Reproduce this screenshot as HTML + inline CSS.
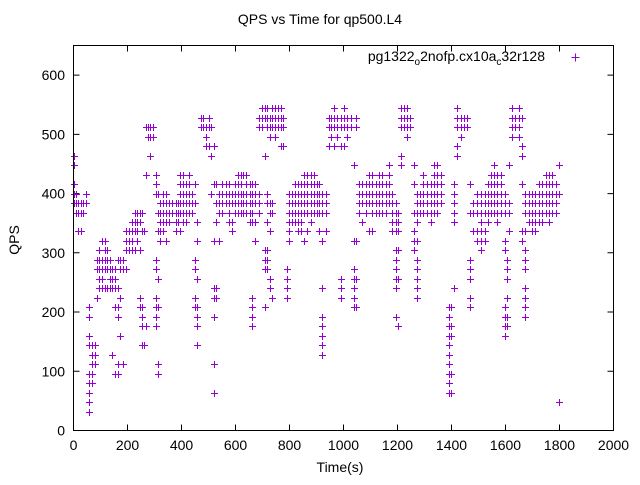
<!DOCTYPE html>
<html><head><meta charset="utf-8"><style>
html,body{margin:0;padding:0;background:#fff;}
svg text{font-family:"Liberation Sans",sans-serif;}
</style></head><body>
<svg id="chart" width="640" height="480" viewBox="0 0 640 480" xmlns="http://www.w3.org/2000/svg">
<rect x="0" y="0" width="640" height="480" fill="#fff"/>
<text x="320" y="24" font-size="14" text-anchor="middle">QPS vs Time for qp500.L4</text>
<text x="340" y="472" font-size="14" text-anchor="middle">Time(s)</text>
<text transform="translate(19,240) rotate(-90)" font-size="14" text-anchor="middle">QPS</text>
<g id="axes"></g>
<g id="marks"></g>
<g>
<text x="545" y="61" font-size="14" text-anchor="end">pg1322<tspan font-size="10" dy="4">o</tspan><tspan dy="-4">2nofp.cx10a</tspan><tspan font-size="10" dy="4">c</tspan><tspan dy="-4">32r128</tspan></text>
<path d="M571.5 57.5h8M575.5 53.5v8" stroke="#9400d3" stroke-width="1"/>
</g>
<rect x="73.5" y="45.5" width="540" height="385" fill="none" stroke="#000" stroke-width="1"/>
</svg>
<script>
const xTicks=[0,200,400,600,800,1000,1200,1400,1600,1800,2000];
const yTicks=[0,100,200,300,400,500,600];
const sampleTimes=[1,9,16,26,36,48,57,68,80,88,95,105,115,125,135,144,154,164,174,184,194,205,215,226,235,245,252,261,267,275,285,295,306,314,322,332,342,354,366,378,387,396,406,416,429,438,451,458,471,480,489,500,509,520,529,538,550,563,576,588,598,609,619,629,640,652,662,674,687,699,708,718,727,737,748,757,767,776,789,798,809,820,831,844,855,866,878,890,900,910,921,934,946,955,964,977,989,1001,1014,1026,1038,1045,1057,1069,1082,1094,1106,1119,1131,1143,1156,1168,1180,1193,1201,1214,1224,1236,1246,1261,1271,1283,1295,1310,1323,1335,1347,1360,1390,1397,1411,1421,1434,1446,1458,1468,1481,1493,1508,1523,1535,1547,1557,1570,1582,1597,1604,1613,1625,1637,1650,1662,1674,1687,1699,1711,1724,1736,1749,1761,1773,1786,1798];
const sampleQps=[
[464,448,416,400,384],[400,384,368],[384,368,336],[384,368,336],[384,368],[400,384],
[208,192,160,144,96,80,64,48,32],[144,128,112,96,80],[144,128,112],[224,288,272],
[304,288,272,256,240],[320,288,272,256,240],[320,304,288,272,240],[304,288,272,240],
[288,272,256,240],[272,256,240,128],[272,256,240,208,96],[288,240,208,192,96,112],
[288,272,224,160],[288,272,112],[320,336,304,272],[336,320,304],[352,336,320,304],
[368,352,336,304],[368,352,336,320],[368,352,304,224,208],[368,336,208,192,176,144],
[336,144],[512,432,176],[512,496],[512,496,464],[512,496],
[432,416,400,288,272,224,208,192,176],[400,368,336,256,208,112,96],[384,368,352,336,320],
[400,384,368,352,336],[400,384,368,352,320],[384,368,352],[384,368],[384,368,352,336],
[384,368,352],[432,416,400,384,368,336],[432,416,400,384,368,352],[416,400,384,368,352],
[432,416,400,384,368],[400,384,368],[416,384,288,272,224,208],[352,320,256,208,192,176,144],
[528,512],[528,512],[512,496,480],[528,512,480],[512,464,400],
[480,416,320,240,224,192,64,112],[416,384,352,240,224],[400,384,368,320],[416,400,384,368],
[416,400,384],[416,400,384,368,352],[400,384,352,336],[416,400,384,368],[432,416,400,384,368],
[432,416,400,384,368],[432,400,384,368],[432,416,400,384,368],[416,400,384,368,352],
[416,400,384,368,352,208,192,176,224],[416,400,384,352,320],[400,384,368,528,512],
[544,528,512],[544,528,464,304,288,272,208],[544,528,512,400,384,352,304,288,272],
[528,512,496,384,368,336,256,240],[544,528,512,384,368,224],[544,528,512,496],[544,528,512],
[544,528,512,480],[528,512,480],[272,256,240,224],[400,384,368,352,336,320],[400,384,368,352],
[416,400,384,368,352],[416,400,384,368,352,336],[416,400,384,368,352,336],
[432,416,400,384,368,320],[432,416,400,384,368,336],[432,416,400,384,368,352],
[432,416,400,384,368],[416,400,384,368],[416,400,384,368,336],
[400,384,368,320,240,192,176,160,144,128],[400,384,368,336],[528,512,480],[528,512,496],
[544,528,512,480],[528,512,496],[528,512,480,256,240,224],[544,528,512,480],[528,512,496],
[528,512],[448,320,272,256,240,224,208],[528,512,320,256,208],[416,400,384,368],
[416,400,384,352],[416,400,384,368],[432,416,400,384,336],[432,416,400,384,368,336],
[416,400,384,368],[432,416,400,384,368],[432,416,400,384,368],[416,400,384,368],
[448,432,416,400,384],[400,384,368,352,336],[384,368,352,336,304,288,272,256,240,192],
[368,352,336,304,256,176],[544,528,512,464,448],[544,528,512],[544,528,512,496],[528,512],
[448,416,368,336,320,304],[400,384,368,352,320,288,272,256,240,224],[400,384,368],
[432,416,400,384,368],[416,400,384,368],[416,400,384,368,352],[448,432,416,400,384,368],
[448,432,416,400,384,368],[432,416,400,384],[208,192,176,160,144,128,112,96,80,64],
[208,176,160,64,96],[416,400,384,368,352,240],[544,528,512,480,464],[528,512,496],[528,512],
[528,512],[416,368,288,272,256,224,208],[384,368,336],[400,384,368,336,320],
[400,384,368,352,336,320,304],[400,384,368,336,320],[416,400,384,368,352],[432,416,400,384,368],
[448,432,416,400,384,368],[432,416,400,384,368,352],[432,416,400,384,368],
[400,384,368,320,304,208,192,176,160],[288,272,256,224,192,176],[384,368,336,448],
[544,528,512,496],[528,512],[544,528,512,496],[528,480,464,320,336,416],
[400,384,368,336,304,288,272,240,208,192,224],[400,384,368,352],[400,384,368,352,336],
[400,384,368,352,336],[416,400,384,368,352],[416,400,384,368,352],[432,416,400,384,368],
[432,416,400,384,368,352],[432,416,400,384,368],[416,400,384,368],[448,400,48]
];
const NS='http://www.w3.org/2000/svg';
const X0=73.5,X1=613.5,Y0=430.5,Y1=45.5,XMAX=2000,YMAX=650;
function xScale(v){return X0+(X1-X0)*v/XMAX;}
function yScale(v){return Y0-(Y0-Y1)*v/YMAX;}
const axes=document.getElementById('axes');
xTicks.forEach(function(t){
  const x=xScale(t);
  const tk=document.createElementNS(NS,'path');
  tk.setAttribute('d','M'+x+' '+Y0+'v-6M'+x+' '+Y1+'v6');
  tk.setAttribute('stroke','#000');
  
  
  axes.appendChild(tk);
  const lb=document.createElementNS(NS,'text');
  lb.setAttribute('x',x);lb.setAttribute('y',450);
  lb.setAttribute('font-size','14');lb.setAttribute('text-anchor','middle');
  
  
  lb.textContent=t;axes.appendChild(lb);
});
yTicks.forEach(function(t){
  const y=yScale(t);
  const tk=document.createElementNS(NS,'path');
  tk.setAttribute('d','M'+X0+' '+y+'h6M'+X1+' '+y+'h-6');
  tk.setAttribute('stroke','#000');
  
  
  axes.appendChild(tk);
  const lb=document.createElementNS(NS,'text');
  lb.setAttribute('x',65);lb.setAttribute('y',y+5);
  lb.setAttribute('font-size','14');lb.setAttribute('text-anchor','end');
  
  
  lb.textContent=t;axes.appendChild(lb);
});
const marks=document.getElementById('marks');
let d='';
sampleTimes.forEach(function(t,i){
  const x=Math.round(xScale(t))+0.5;
  sampleQps[i].forEach(function(q){
    const y=Math.round(yScale(q))+0.5;
    d+='M'+(x-3.5)+' '+y+'h7M'+x+' '+(y-3.5)+'v7';
  });
});
const p=document.createElementNS(NS,'path');
p.setAttribute('d',d);
p.setAttribute('stroke','#9400d3');
p.setAttribute('stroke-width','1');
p.setAttribute('fill','none');


marks.appendChild(p);
</script>
</body></html>
